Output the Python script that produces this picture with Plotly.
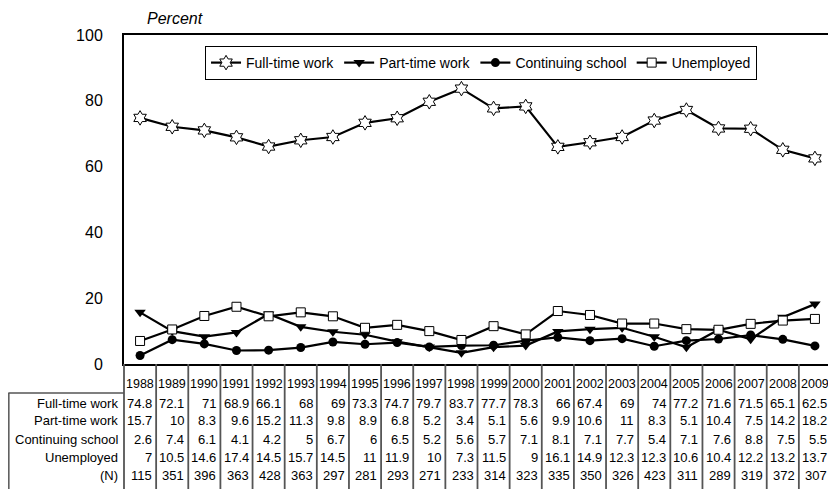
import plotly.graph_objects as go

years = list(range(1988, 2010))
full_time = [74.8, 72.1, 71, 68.9, 66.1, 68, 69, 73.3, 74.7, 79.7, 83.7, 77.7, 78.3, 66, 67.4, 69, 74, 77.2, 71.6, 71.5, 65.1, 62.5]
part_time = [15.7, 10, 8.3, 9.6, 15.2, 11.3, 9.8, 8.9, 6.8, 5.2, 3.4, 5.1, 5.6, 9.9, 10.6, 11, 8.3, 5.1, 10.4, 7.5, 14.2, 18.2]
continuing = [2.6, 7.4, 6.1, 4.1, 4.2, 5, 6.7, 6, 6.5, 5.2, 5.6, 5.7, 7.1, 8.1, 7.1, 7.7, 5.4, 7.1, 7.6, 8.8, 7.5, 5.5]
unemployed = [7, 10.5, 14.6, 17.4, 14.5, 15.7, 14.5, 11, 11.9, 10, 7.3, 11.5, 9, 16.1, 14.9, 12.3, 12.3, 10.6, 10.4, 12.2, 13.2, 13.7]
n_count = [115, 351, 396, 363, 428, 363, 297, 281, 293, 271, 233, 314, 323, 335, 350, 326, 423, 311, 289, 319, 372, 307]

# the page body has an 8px margin, so the figure is drawn 8px smaller
OFF = 8
W, H = 836 - OFF, 489 - OFF
ML, MR, MT, MB = 124 - OFF, 3, 35 - OFF, 125
plot_h = H - MT - MB
plot_w = W - ML - MR


def py(pix):
    # screen pixel row -> paper y
    return (H - MB - (pix - OFF)) / plot_h


def px(pix):
    # screen pixel column -> paper x
    return (pix - OFF - ML) / plot_w


def fmt(v):
    return '%g' % v


FONT = 'Arial, Liberation Sans, sans-serif'
fig = go.Figure()

series = [
    ('Full-time work', full_time, dict(symbol='hexagram', size=11, color='white', line=dict(color='black', width=1))),
    ('Part-time work', part_time, dict(symbol='triangle-down', size=10, color='black')),
    ('Continuing school', continuing, dict(symbol='circle', size=9, color='black')),
    ('Unemployed', unemployed, dict(symbol='square', size=9, color='white', line=dict(color='black', width=1))),
]
for name, vals, mk in series:
    fig.add_trace(go.Scatter(x=years, y=vals, mode='lines+markers', name=name,
                             line=dict(color='black', width=2.2), marker=mk, cliponaxis=False))

annots = []
shapes = []

# y axis title
annots.append(dict(text='<i>Percent</i>', xref='paper', yref='paper', x=px(145),
                   y=py(8), xanchor='left', yanchor='top', showarrow=False,
                   font=dict(size=16, color='black', family=FONT)))

# data table under the plot
year_row = 384
row_ys = [403, 421, 439, 457, 475]
row_labels = ['Full-time work', 'Part-time work', 'Continuing school', 'Unemployed', '(N)']
row_vals = [full_time, part_time, continuing, unemployed, n_count]

for yr in years:
    annots.append(dict(text=str(yr), x=yr, xref='x', yref='paper', y=py(year_row),
                       xanchor='center', yanchor='middle', showarrow=False,
                       font=dict(size=12.5, color='black', family=FONT)))
for lab, vals, ry in zip(row_labels, row_vals, row_ys):
    annots.append(dict(text=lab, xref='paper', yref='paper', x=px(120), y=py(ry),
                       xanchor='right', yanchor='middle', showarrow=False,
                       font=dict(size=13, color='black', family=FONT)))
    for yr, v in zip(years, vals):
        annots.append(dict(text=fmt(v), x=yr + 0.5, xref='x', yref='paper', y=py(ry),
                           xanchor='right', yanchor='middle', xshift=-2, showarrow=False,
                           font=dict(size=13, color='black', family=FONT)))

# grid lines of the table
for i in range(len(years) + 1):
    shapes.append(dict(type='line', xref='paper', yref='paper',
                       x0=i / len(years), x1=i / len(years), y0=0, y1=py(495),
                       line=dict(color='#555', width=1.8)))
shapes.append(dict(type='line', xref='paper', yref='paper', x0=px(8), x1=0,
                   y0=py(393), y1=py(393), line=dict(color='#555', width=1.5)))
shapes.append(dict(type='line', xref='paper', yref='paper', x0=px(8.5), x1=px(8.5),
                   y0=py(393), y1=py(495), line=dict(color='#555', width=1.5)))

fig.update_layout(
    width=W, height=H,
    margin=dict(l=ML, r=MR, t=MT, b=MB),
    paper_bgcolor='white', plot_bgcolor='white',
    font=dict(family=FONT, color='black'),
    showlegend=True,
    legend=dict(orientation='h', x=0.505, xanchor='center', y=py(46), yanchor='top',
                bgcolor='white', bordercolor='black', borderwidth=1,
                font=dict(size=14, color='black'), itemwidth=30, tracegroupgap=0),
    annotations=annots,
    shapes=shapes,
)
fig.update_xaxes(range=[1987.5, 2009.5], showticklabels=False, ticks='', showgrid=False, zeroline=False,
                 showline=True, mirror=True, linecolor='black', linewidth=2)
fig.update_yaxes(range=[0, 100], tickvals=[0, 20, 40, 60, 80, 100], ticks='', showgrid=False, zeroline=False,
                 showline=True, mirror=True, linecolor='black', linewidth=2, ticklabelstandoff=16,
                 tickfont=dict(size=16, color='black'))

fig.write_html("out.html")
